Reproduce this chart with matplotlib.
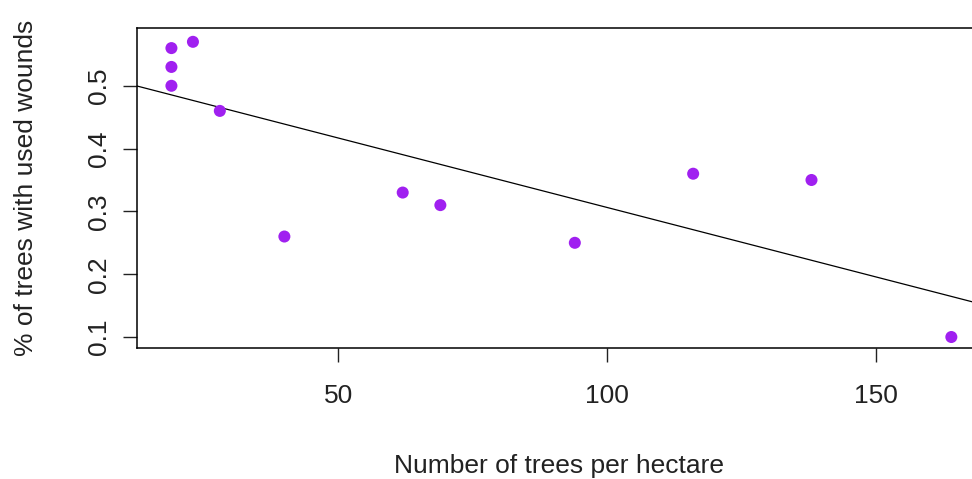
import matplotlib.pyplot as plt
import numpy as np

plt.rcParams["font.family"] = ["Liberation Sans", "DejaVu Sans"]

# trees per hectare vs share of trees with used wounds
trees_per_ha = [19, 19, 19, 23, 28, 40, 62, 69, 94, 116, 138, 164]
pct_wounds = [0.56, 0.53, 0.50, 0.57, 0.46, 0.26, 0.33, 0.31, 0.25, 0.36, 0.35, 0.10]
x_ticks = [50, 100, 150]
y_ticks = [0.1, 0.2, 0.3, 0.4, 0.5]

x = np.array(trees_per_ha)
y = np.array(pct_wounds)
slope, intercept = np.polyfit(x, y, 1)

W, H = 972, 479
FS = 19
fig = plt.figure(figsize=(W / 100, H / 100), dpi=100)
# plot box: left 137px, right runs past the image edge, top 28px, bottom 348px
ax = fig.add_axes([137 / W, (H - 348) / H, (982 - 137) / W, (348 - 28) / H])

ax.scatter(x, y, s=75, color="#A020F0", edgecolors="none", zorder=3)
xl = np.array([0, 200])
ax.plot(xl, intercept + slope * xl, color="black", lw=0.9)

ax.set_xlim(12.6, 169.7)
ax.set_ylim(0.0825, 0.592)
ax.set_xticks(x_ticks)
ax.set_yticks(y_ticks)
ax.set_yticklabels([str(v) for v in y_ticks], rotation=90, va="center")
ax.tick_params(axis="both", length=10, width=1.0, labelsize=FS, colors="#222222")
ax.tick_params(axis="x", pad=16)
ax.tick_params(axis="y", pad=9)
for s in ax.spines.values():
    s.set_linewidth(1.1)

ax.set_xlabel("Number of trees per hectare", fontsize=FS, labelpad=33, color="#222222")
ax.set_ylabel("% of trees with used wounds", fontsize=FS, labelpad=35, color="#222222")

fig.savefig("out.png", dpi=100)
